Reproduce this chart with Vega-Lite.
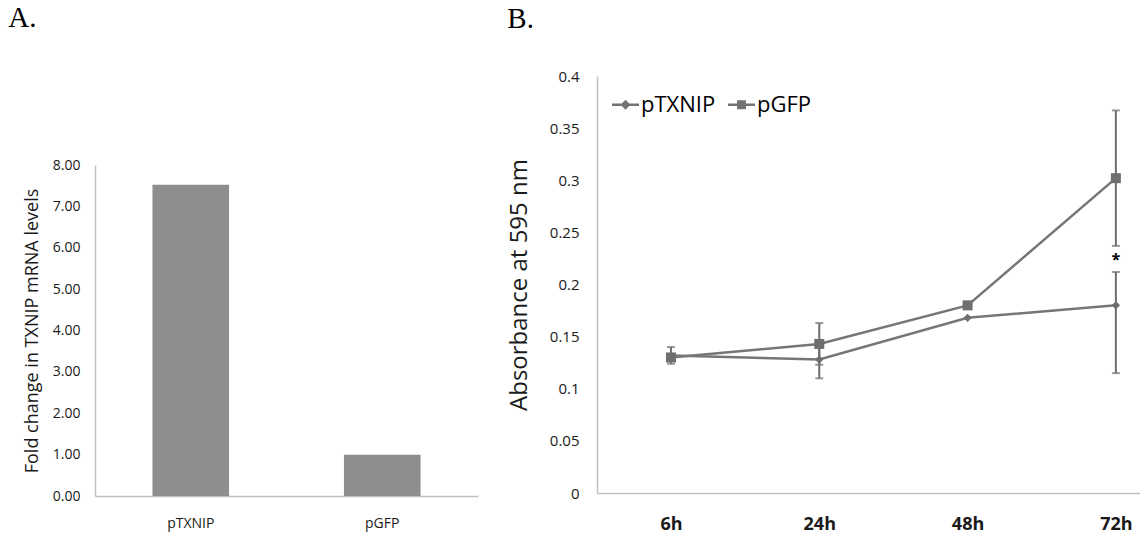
{
  "$schema": "https://vega.github.io/schema/vega-lite/v6.json",
  "background": "white",
  "padding": {"left": 8, "top": 4, "right": 0, "bottom": 0},
  "spacing": 29,
  "resolve": {"scale": {"shape": "independent"}, "legend": {"shape": "independent"}},
  "config": {
    "view": {"stroke": null},
    "font": "Open Sans",
    "axis": {
      "ticks": false,
      "grid": false,
      "domainColor": "#c0c0c0",
      "domainWidth": 1.5,
      "labelColor": "#1a1a1a",
      "titleColor": "#1a1a1a",
      "titleFontWeight": "normal",
      "labelFont": "Open Sans",
      "titleFont": "Open Sans"
    },
    "title": {
      "font": "Liberation Serif",
      "fontSize": 29,
      "fontWeight": "normal",
      "color": "#000000",
      "anchor": "start",
      "frame": "bounds"
    }
  },
  "datasets": {
    "expression": [
      {"construct": "pTXNIP", "fold_change": 7.52},
      {"construct": "pGFP", "fold_change": 1.0}
    ],
    "absorbance": [
      {"series": "pTXNIP", "time": "6h", "value": 0.132},
      {"series": "pTXNIP", "time": "24h", "value": 0.128},
      {"series": "pTXNIP", "time": "48h", "value": 0.168},
      {"series": "pTXNIP", "time": "72h", "value": 0.180},
      {"series": "pGFP", "time": "6h", "value": 0.130},
      {"series": "pGFP", "time": "24h", "value": 0.143},
      {"series": "pGFP", "time": "48h", "value": 0.180},
      {"series": "pGFP", "time": "72h", "value": 0.302}
    ],
    "errors": [
      {"series": "pGFP", "time": "6h", "low": 0.124, "high": 0.140},
      {"series": "pTXNIP", "time": "24h", "low": 0.110, "high": 0.146},
      {"series": "pGFP", "time": "24h", "low": 0.123, "high": 0.163},
      {"series": "pTXNIP", "time": "72h", "low": 0.115, "high": 0.212},
      {"series": "pGFP", "time": "72h", "low": 0.237, "high": 0.367}
    ],
    "significance": [
      {"time": "72h", "value": 0.228, "mark": "*"}
    ]
  },
  "hconcat": [
    {
      "title": {"text": "A.", "offset": 43, "dx": -15},
      "width": 383,
      "height": 420,
      "data": {"name": "expression"},
      "mark": {"type": "bar", "color": "#8e8e8e"},
      "encoding": {
        "x": {
          "field": "construct",
          "type": "nominal",
          "sort": null,
          "scale": {"paddingInner": 0.6, "paddingOuter": 0.3},
          "axis": {"title": null, "labelAngle": 0, "labelFontSize": 14, "labelPadding": 20}
        },
        "y": {
          "field": "fold_change",
          "type": "quantitative",
          "scale": {"domain": [0, 8], "range": [420, 89]},
          "axis": {
            "values": [0, 1, 2, 3, 4, 5, 6, 7, 8],
            "format": ".2f",
            "labelFontSize": 14,
            "labelPadding": 15,
            "title": "Fold change in TXNIP mRNA levels",
            "titleFontSize": 18,
            "titlePadding": 11
          }
        }
      }
    },
    {
      "title": {"text": "B.", "offset": 35},
      "width": 543,
      "height": 417,
      "encoding": {
        "x": {
          "field": "time",
          "type": "nominal",
          "sort": ["6h", "24h", "48h", "72h"],
          "scale": {"type": "point", "padding": 0.3307, "align": 0.754},
          "axis": {
            "title": null,
            "labelAngle": 0,
            "labelFontSize": 18,
            "labelFontWeight": "bold",
            "labelPadding": 22
          }
        }
      },
      "layer": [
        {
          "data": {"name": "errors"},
          "mark": {"type": "rule", "color": "#6e6e6e", "strokeWidth": 2},
          "encoding": {
            "y": {"field": "low", "type": "quantitative", "title": "Absorbance at 595 nm", "scale": {"domain": [0, 0.4]}},
            "y2": {"field": "high"}
          }
        },
        {
          "data": {"name": "errors"},
          "mark": {"type": "tick", "orient": "horizontal", "size": 8, "thickness": 2, "color": "#6e6e6e"},
          "encoding": {
            "y": {"field": "low", "type": "quantitative", "title": "Absorbance at 595 nm", "scale": {"domain": [0, 0.4]}}
          }
        },
        {
          "data": {"name": "errors"},
          "mark": {"type": "tick", "orient": "horizontal", "size": 8, "thickness": 2, "color": "#6e6e6e"},
          "encoding": {
            "y": {"field": "high", "type": "quantitative", "title": "Absorbance at 595 nm", "scale": {"domain": [0, 0.4]}}
          }
        },
        {
          "data": {"name": "absorbance"},
          "mark": {"type": "line", "color": "#767676", "strokeWidth": 2.5},
          "encoding": {
            "y": {
              "field": "value",
              "type": "quantitative",
              "title": "Absorbance at 595 nm",
              "scale": {"domain": [0, 0.4]},
              "axis": {
                "values": [0, 0.05, 0.1, 0.15, 0.2, 0.25, 0.3, 0.35, 0.4],
                "format": "~g",
                "labelFontSize": 15,
                "labelPadding": 18,
                "titleFontSize": 24,
                "titlePadding": 18
              }
            },
            "detail": {"field": "series", "type": "nominal"}
          }
        },
        {
          "data": {"name": "absorbance"},
          "transform": [{"filter": "datum.series === 'pTXNIP'"}],
          "mark": {"type": "point", "filled": true, "opacity": 1, "color": "#6e6e6e", "shape": "diamond", "size": 70},
          "encoding": {
            "y": {"field": "value", "type": "quantitative", "title": "Absorbance at 595 nm", "scale": {"domain": [0, 0.4]}}
          }
        },
        {
          "data": {"name": "absorbance"},
          "transform": [{"filter": "datum.series === 'pGFP'"}],
          "mark": {"type": "point", "filled": true, "opacity": 1, "color": "#6e6e6e", "shape": "square", "size": 100},
          "encoding": {
            "y": {"field": "value", "type": "quantitative", "title": "Absorbance at 595 nm", "scale": {"domain": [0, 0.4]}}
          }
        },
        {
          "data": {"name": "absorbance"},
          "mark": {"type": "point", "filled": true, "opacity": 0, "color": "#737373"},
          "encoding": {
            "y": {"field": "value", "type": "quantitative", "title": "Absorbance at 595 nm", "scale": {"domain": [0, 0.4]}},
            "shape": {
              "field": "series",
              "type": "nominal",
              "scale": {
                "domain": ["pTXNIP", "pGFP"],
                "range": [
                  "M-1,-0.09H1V0.09H-1ZM0,-0.37L0.37,0L0,0.37L-0.37,0Z",
                  "M-1,-0.09H1V0.09H-1ZM-0.33,-0.33H0.33V0.33H-0.33Z"
                ]
              },
              "legend": {
                "title": null,
                "orient": "none",
                "legendX": 15,
                "legendY": 15,
                "direction": "horizontal",
                "labelFontSize": 22,
                "labelColor": "#000000",
                "labelOffset": 2,
                "columnPadding": 12,
                "symbolSize": 729,
                "symbolOpacity": 1,
                "symbolStrokeWidth": 0,
                "symbolFillColor": "#737373"
              }
            }
          }
        },
        {
          "data": {"name": "significance"},
          "mark": {"type": "text", "fontSize": 16, "fontWeight": "bold", "baseline": "middle", "dy": 5, "color": "#000000"},
          "encoding": {
            "y": {"field": "value", "type": "quantitative", "title": "Absorbance at 595 nm", "scale": {"domain": [0, 0.4]}},
            "text": {"field": "mark"}
          }
        }
      ]
    }
  ]
}
